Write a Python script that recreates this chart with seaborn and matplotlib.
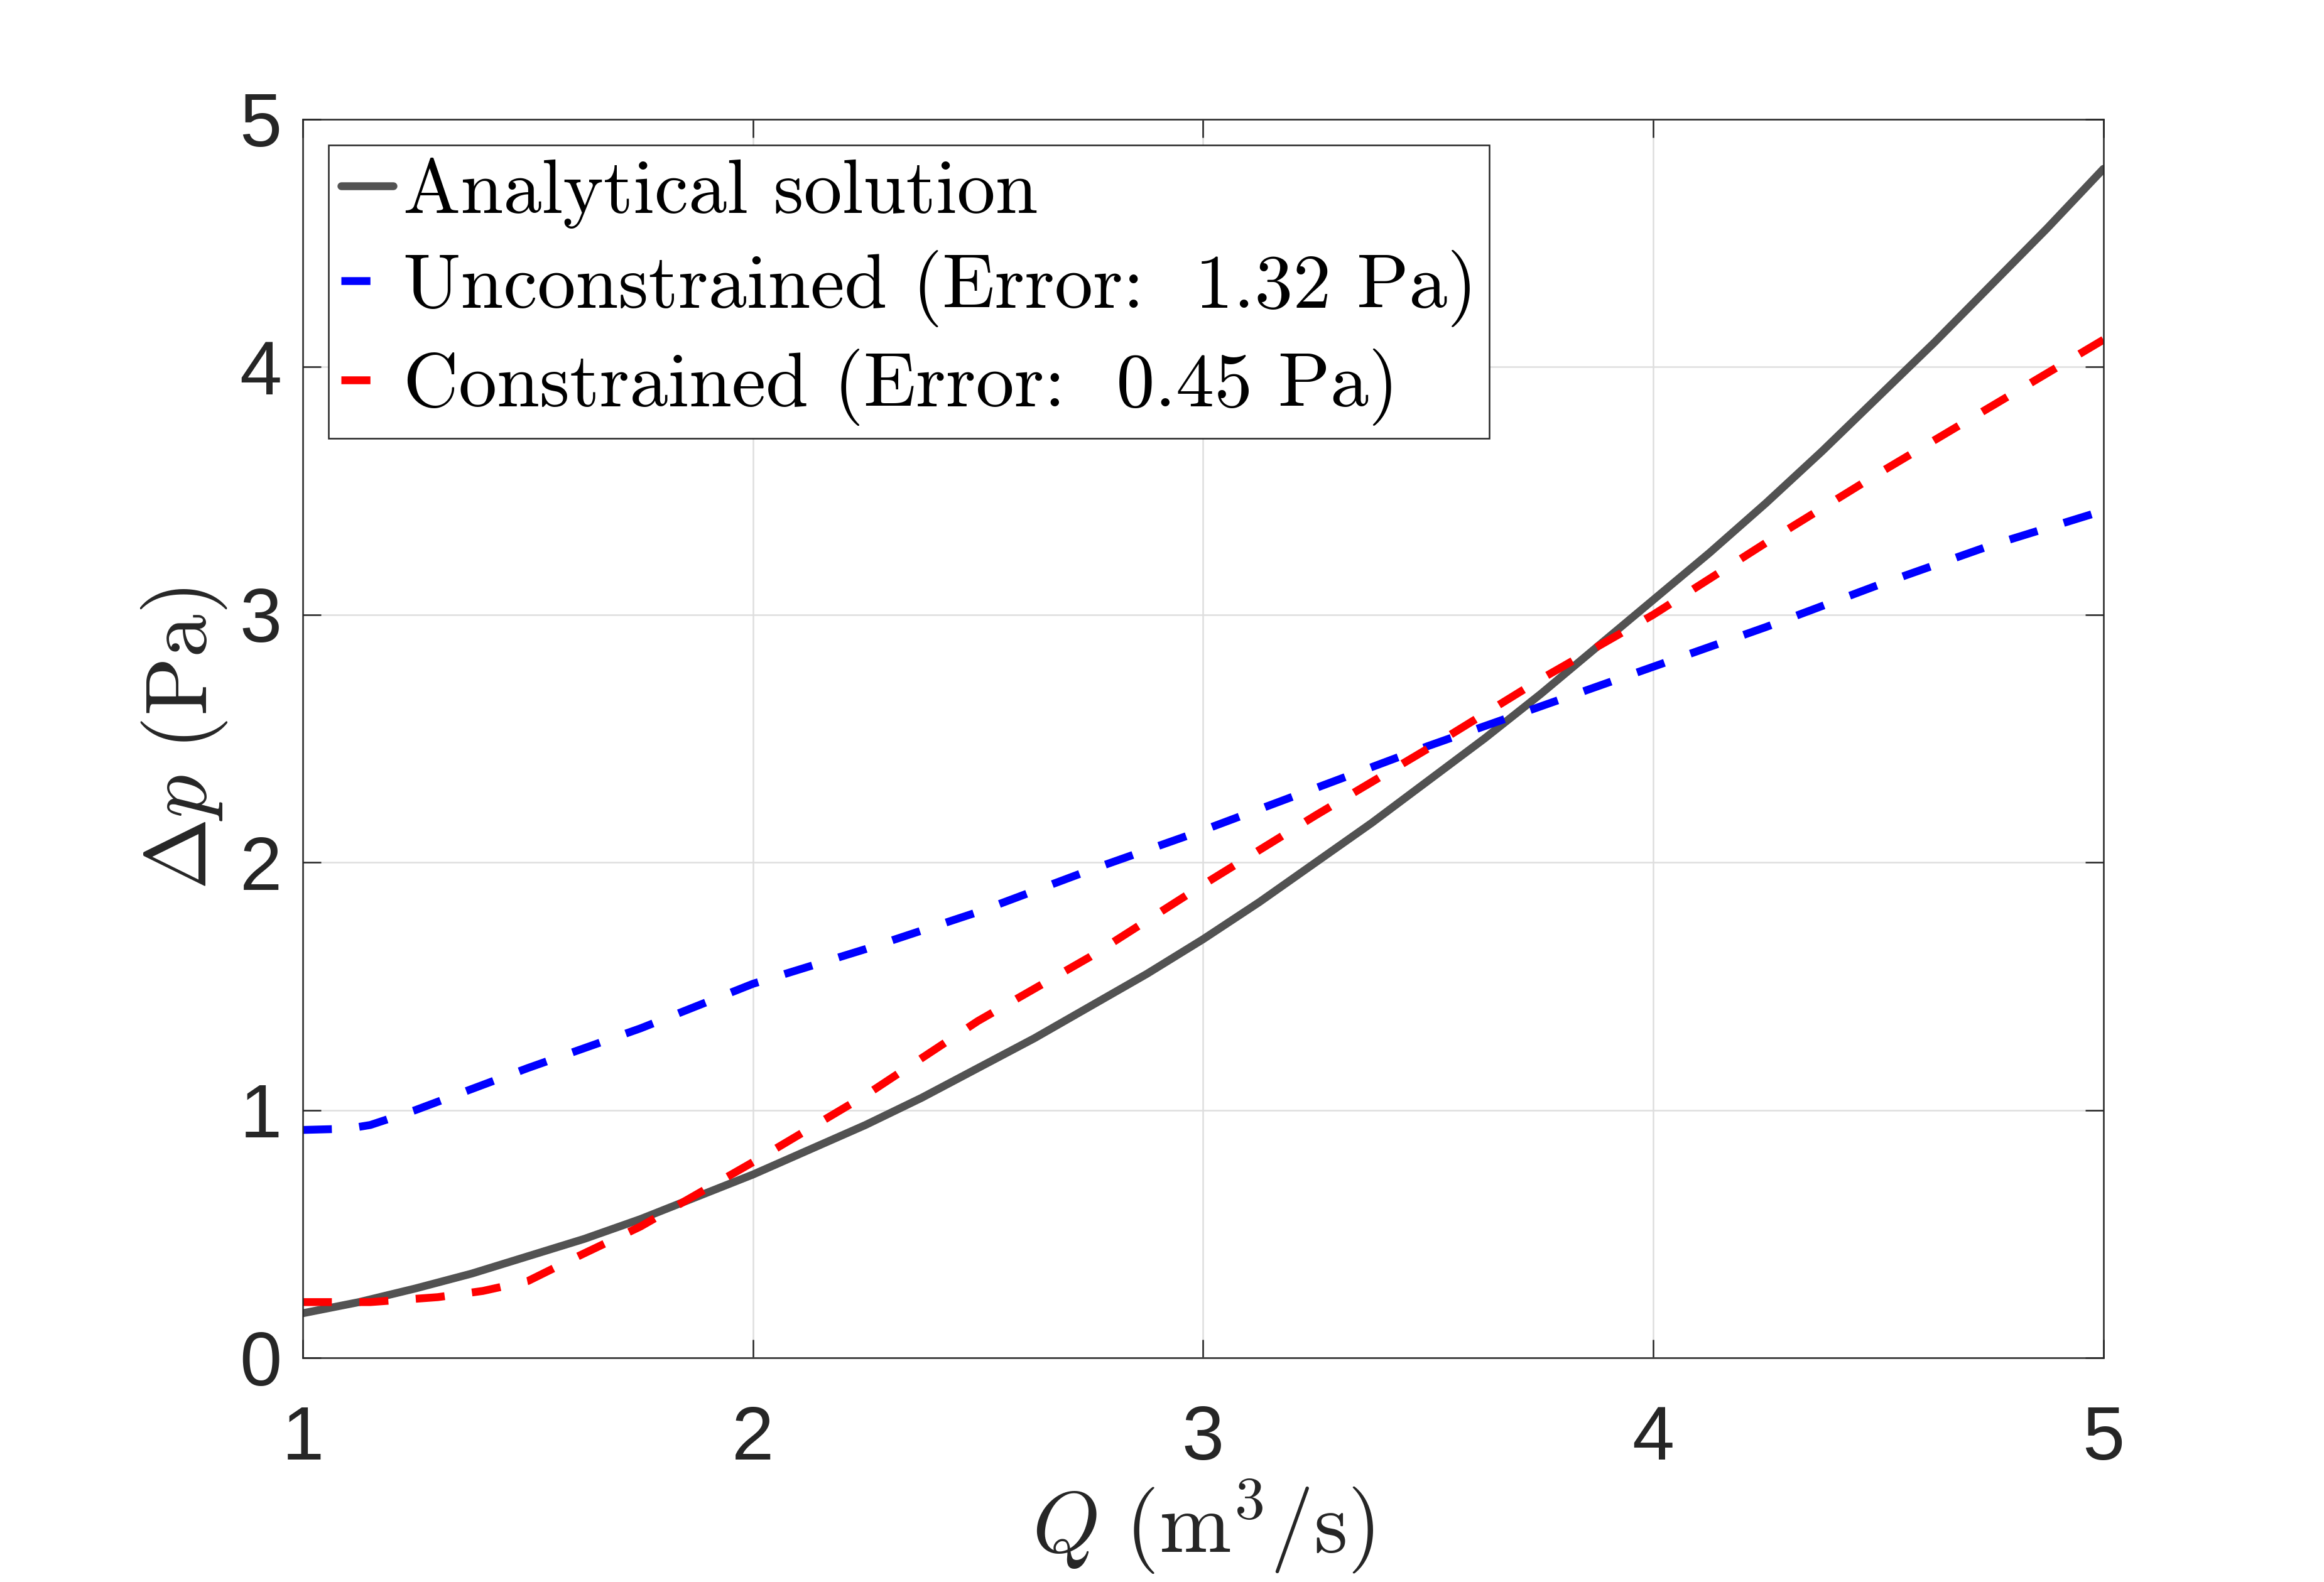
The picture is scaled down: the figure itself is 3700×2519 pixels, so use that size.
import matplotlib
import matplotlib.pyplot as plt
import pandas as pd
import seaborn as sns

matplotlib.use('Agg')

# values
q_analytical = [1.0, 1.125, 1.25, 1.375, 1.5, 1.625, 1.75, 1.875, 2.0, 2.125, 2.25, 2.375, 2.5, 2.625,
                2.75, 2.875, 3.0, 3.125, 3.25, 3.375, 3.5, 3.625, 3.75, 3.875, 4.0, 4.125, 4.25,
                4.375, 4.5, 4.625, 4.75, 4.875, 5.0]
dp_analytical = [0.18, 0.225, 0.28, 0.34, 0.41, 0.48, 0.56, 0.65, 0.74, 0.84, 0.94, 1.05, 1.17, 1.29,
                 1.42, 1.55, 1.69, 1.84, 2.00, 2.16, 2.33, 2.50, 2.68, 2.87, 3.06, 3.25, 3.45,
                 3.66, 3.88, 4.10, 4.33, 4.56, 4.80]

q_unconstrained = [1.0, 1.1, 1.15, 1.2, 1.25, 1.5, 1.75, 2.0, 2.25, 2.5, 2.75, 3.0, 3.25, 3.5, 3.75,
                   4.0, 4.25, 4.5, 4.75, 5.0]
dp_unconstrained = [0.92, 0.925, 0.94, 0.97, 1.00, 1.17, 1.33, 1.51, 1.65, 1.80, 1.97, 2.13, 2.30, 2.47,
                    2.63, 2.79, 2.95, 3.12, 3.28, 3.42]

q_constrained = [1.0, 1.15, 1.3, 1.4, 1.5, 1.6, 1.75, 2.0, 2.25, 2.5, 2.75, 3.0, 3.25, 3.5, 3.75, 4.0,
                 4.25, 4.5, 4.75, 5.0]
dp_constrained = [0.225, 0.225, 0.245, 0.27, 0.31, 0.40, 0.53, 0.79, 1.06, 1.36, 1.62, 1.91, 2.19, 2.46,
                  2.74, 3.00, 3.29, 3.57, 3.84, 4.11]

series_names = ['Analytical solution',
                'Unconstrained (Error: 1.32 Pa)',
                'Constrained (Error: 0.45 Pa)']
# LaTeX puts a wider gap after the colon
legend_labels = ['Analytical solution',
                 'Unconstrained (Error:  1.32 Pa)',
                 'Constrained (Error:  0.45 Pa)']

frames = []
for name, q, dp in zip(series_names,
                       [q_analytical, q_unconstrained, q_constrained],
                       [dp_analytical, dp_unconstrained, dp_constrained]):
    frames.append(pd.DataFrame({'Q': q, 'dp': dp, 'series': name}))
data = pd.concat(frames, ignore_index=True)

sns.set_style('white')
plt.rcParams['font.family'] = ['Liberation Sans', 'DejaVu Sans']
plt.rcParams['mathtext.fontset'] = 'cm'

fig = plt.figure(figsize=(37 / 3, 25.19 / 3), dpi=300)
ax = fig.add_axes([0.1303, 0.1417, 0.7748, 0.7829])

palette = {series_names[0]: '#525252', series_names[1]: '#0000ff', series_names[2]: '#ff0000'}
dashes = {series_names[0]: '', series_names[1]: (3.7, 3.5), series_names[2]: (3.7, 3.5)}

sns.lineplot(data=data, x='Q', y='dp', hue='series', style='series',
             hue_order=series_names, style_order=series_names,
             palette=palette, dashes=dashes, linewidth=3.0, ax=ax)

ax.set_xlim(1, 5)
ax.set_ylim(0, 5)
ax.set_xticks([1, 2, 3, 4, 5])
ax.set_yticks([0, 1, 2, 3, 4, 5])
ax.grid(True, color='#dedede', linewidth=0.6)

for s in ax.spines.values():
    s.set_color('#262626')
    s.set_linewidth(0.6)
ax.tick_params(direction='in', length=7, width=0.6, color='#262626',
               labelsize=29, labelcolor='#262626',
               top=True, right=True, bottom=True, left=True)
ax.tick_params(axis='x', pad=18)
ax.tick_params(axis='y', pad=8)

ax.set_xlabel(r'$Q\ (\mathrm{m}^3/\mathrm{s})$', fontsize=33, labelpad=1)
ax.set_ylabel(r'$\Delta p\ (\mathrm{Pa})$', fontsize=33, labelpad=4)

handles, _ = ax.get_legend_handles_labels()
leg = ax.legend(handles[:3], legend_labels, loc='upper left',
                bbox_to_anchor=(0.0143, 0.979), prop={'family': 'cmr10', 'size': 29.3},
                handlelength=0.68, handletextpad=0.13, borderpad=0.16,
                labelspacing=0.28, borderaxespad=0.0, labelcolor='black',
                fancybox=False, framealpha=1.0, edgecolor='#262626')
leg.get_frame().set_linewidth(0.6)

fig.savefig('out.png', dpi=300)
